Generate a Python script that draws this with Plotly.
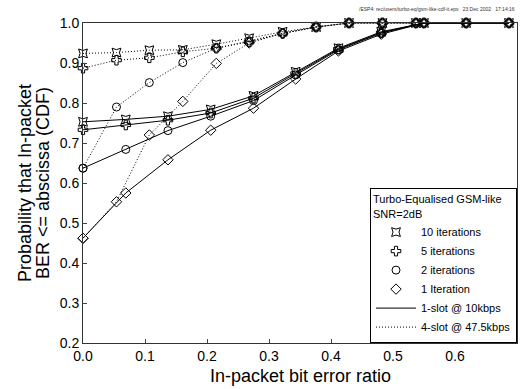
import plotly.graph_objects as go

# ---------------- data ----------------
x_1slot = [0.0, 0.069, 0.137, 0.206, 0.275, 0.343, 0.412, 0.481, 0.550, 0.618, 0.687]
x_4slot = [0.0, 0.054, 0.107, 0.161, 0.215, 0.268, 0.322, 0.376, 0.429, 0.483, 0.537]

slot1_it10 = [0.753, 0.759, 0.767, 0.784, 0.818, 0.878, 0.937, 0.978, 1.0, 1.0, 1.0]
slot1_it5 = [0.733, 0.745, 0.757, 0.775, 0.812, 0.874, 0.935, 0.976, 1.0, 1.0, 1.0]
slot1_it2 = [0.637, 0.684, 0.731, 0.767, 0.806, 0.870, 0.933, 0.975, 1.0, 1.0, 1.0]
slot1_it1 = [0.462, 0.575, 0.658, 0.732, 0.787, 0.860, 0.930, 0.972, 1.0, 1.0, 1.0]

slot4_it10 = [0.924, 0.926, 0.932, 0.933, 0.947, 0.962, 0.978, 0.990, 1.0, 1.0, 1.0]
slot4_it5 = [0.887, 0.907, 0.913, 0.928, 0.937, 0.953, 0.974, 0.990, 1.0, 1.0, 1.0]
slot4_it2 = [0.637, 0.790, 0.851, 0.901, 0.937, 0.955, 0.974, 0.990, 1.0, 1.0, 1.0]
slot4_it1 = [0.462, 0.553, 0.720, 0.804, 0.899, 0.950, 0.974, 0.990, 1.0, 1.0, 1.0]

iter_labels = ["10 iterations", "5 iterations", "2 iterations", "1 Iteration"]
iter_symbols = ["star-square-open", "cross-open", "circle-open", "diamond-open"]
slot_labels = ["1-slot @ 10kbps", "4-slot @ 47.5kbps"]
x_ticks = [0.0, 0.1, 0.2, 0.3, 0.4, 0.5, 0.6, 0.7]
y_ticks = [0.2, 0.3, 0.4, 0.5, 0.6, 0.7, 0.8, 0.9, 1.0]

FONT = "Liberation Sans, Arial, Helvetica, sans-serif"
DOT = "1px,2px"
MSIZE = 8

fig = go.Figure()

series_1slot = [slot1_it10, slot1_it5, slot1_it2, slot1_it1]
series_4slot = [slot4_it10, slot4_it5, slot4_it2, slot4_it1]

for vals, sym in zip(series_1slot, iter_symbols):
    fig.add_trace(go.Scatter(
        x=x_1slot, y=vals, mode="lines+markers", showlegend=False, cliponaxis=False,
        line=dict(color="black", width=1, dash="solid"),
        marker=dict(symbol=sym, size=MSIZE, color="black", line=dict(width=1, color="black")),
    ))
for vals, sym in zip(series_4slot, iter_symbols):
    fig.add_trace(go.Scatter(
        x=x_4slot, y=vals, mode="lines+markers", showlegend=False, cliponaxis=False,
        line=dict(color="black", width=1, dash=DOT),
        marker=dict(symbol=sym, size=MSIZE, color="black", line=dict(width=1, color="black")),
    ))

# legend-only entries
for lab, sym in zip(iter_labels, iter_symbols):
    fig.add_trace(go.Scatter(
        x=[None], y=[None], mode="markers", name=lab,
        marker=dict(symbol=sym, size=MSIZE, color="black", line=dict(width=1, color="black")),
    ))
for lab, dash in zip(slot_labels, ["solid", DOT]):
    fig.add_trace(go.Scatter(
        x=[None], y=[None], mode="lines", name=lab,
        line=dict(color="black", width=1, dash=dash),
    ))

fig.update_layout(
    width=526, height=389,
    margin=dict(l=83, r=9, t=23, b=46),
    paper_bgcolor="white", plot_bgcolor="white",
    font=dict(family=FONT, color="black"),
    showlegend=True,
    legend=dict(
        x=1.0, xanchor="right", y=0.0, yanchor="bottom",
        bordercolor="black", borderwidth=1, bgcolor="white",
        font=dict(size=11, family=FONT),
        itemwidth=40,
        title=dict(text="Turbo-Equalised GSM-like<br>SNR=2dB", font=dict(size=11, family=FONT)),
        tracegroupgap=0,
    ),
    xaxis=dict(
        range=[0, 0.7], tickvals=x_ticks, ticktext=[f"{v:.1f}" for v in x_ticks],
        showgrid=False, zeroline=False, showline=True, linecolor="#333", linewidth=1, mirror=True,
        ticks="inside", ticklen=4, tickcolor="#444",
        tickfont=dict(size=14, family=FONT),
    ),
    yaxis=dict(
        range=[0.2, 1.0], tickvals=y_ticks, ticktext=[f"{v:.1f}" for v in y_ticks],
        showgrid=False, zeroline=False, showline=True, linecolor="#333", linewidth=1, mirror=True,
        ticks="inside", ticklen=4, tickcolor="#444",
        tickfont=dict(size=14, family=FONT),
    ),
    shapes=[
        # separator between legend title and legend entries
        dict(type="line", xref="paper", yref="paper",
             x0=(370 - 83) / 434, x1=1.0, y0=(343 - 223) / 320, y1=(343 - 223) / 320,
             line=dict(color="black", width=1)),
    ],
)

# axis titles
fig.add_annotation(text="In-packet bit error ratio", xref="paper", yref="paper",
                   x=0.5, y=-0.103, xanchor="center", yanchor="middle", showarrow=False,
                   font=dict(size=18, family=FONT))
fig.add_annotation(text="Probability that In-packet", xref="paper", yref="paper",
                   x=(25 - 83) / 434, y=0.5, xanchor="center", yanchor="middle", showarrow=False,
                   textangle=-90, font=dict(size=18, family=FONT))
fig.add_annotation(text="BER <= abscissa (CDF)", xref="paper", yref="paper",
                   x=(43 - 83) / 434, y=0.5, xanchor="center", yanchor="middle", showarrow=False,
                   textangle=-90, font=dict(size=18, family=FONT))
# tiny file stamp at top right
fig.add_annotation(text="/ESP4: rec/users/turbo-eq/gsm-like-cdf-it.eps   23 Dec 2002   17:14:16",
                   xref="paper", yref="paper", x=1.0, y=(343 - 9) / 320,
                   xanchor="right", yanchor="middle", showarrow=False,
                   font=dict(size=5, family=FONT, color="#333"))

fig.write_html("out.html")
